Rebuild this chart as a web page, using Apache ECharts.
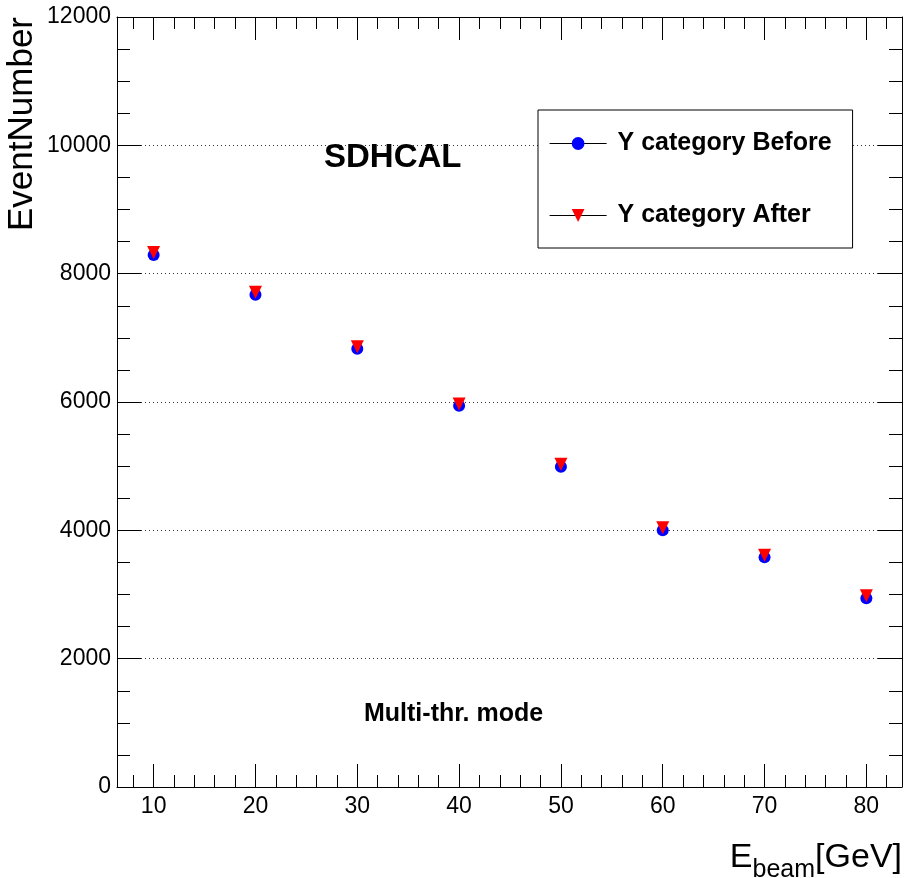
<!DOCTYPE html>
<html>
<head>
<meta charset="utf-8">
<script src="https://cdn.jsdelivr.net/npm/echarts@6/dist/echarts.min.js"></script>
<style>
html,body{margin:0;padding:0;background:#fff;}
#chart{width:907px;height:878px;}
</style>
</head>
<body>
<div id="chart"></div>
<script>
// ---- data ----
var energies = [10, 20, 30, 40, 50, 60, 70, 80];
var beforeValues = [8290, 7670, 6830, 5940, 4990, 4000, 3580, 2940];
var afterValues = [8330, 7710, 6860, 5970, 5030, 4040, 3610, 2980];
var xMajorTicks = [10, 20, 30, 40, 50, 60, 70, 80];
var xMinorTicks = [8, 12, 14, 16, 18, 22, 24, 26, 28, 32, 34, 36, 38, 42, 44, 46, 48, 52, 54, 56, 58, 62, 64, 66, 68, 72, 74, 76, 78, 82];
var seriesNames = ['Y category Before', 'Y category After'];
var yTitle = 'EventNumber';
var annotationMain = 'SDHCAL';
var annotationMode = 'Multi-thr. mode';

var FONT = '"Liberation Sans", Arial, Helvetica, sans-serif';
var X_MIN = 6.4, X_MAX = 83.5;

function pairs(xs, ys) { return xs.map(function (x, i) { return [x, ys[i]]; }); }
function plain(v) { return String(v); }

function xAxisDef(position, ticks, len, showLine, showLabels, extra) {
  var a = {
    type: 'value', position: position, min: X_MIN, max: X_MAX, gridIndex: 0,
    axisLine: { show: showLine, onZero: false, lineStyle: { color: '#000', width: 1 } },
    axisTick: { show: true, inside: true, length: len, customValues: ticks, lineStyle: { color: '#000', width: 1 } },
    axisLabel: showLabels ? { show: true, customValues: ticks, formatter: plain, color: '#000', fontFamily: FONT, fontSize: 23, margin: 8 } : { show: false },
    splitLine: { show: false }
  };
  if (extra) for (var k in extra) a[k] = extra[k];
  return a;
}

var chart = echarts.init(document.getElementById('chart'), null, { renderer: 'canvas' });
var option = {
  animation: false,
  backgroundColor: '#fff',
  grid: { left: 117, top: 17, right: 5, bottom: 91, containLabel: false, outerBoundsMode: 'none' },
  xAxis: [
    xAxisDef('bottom', xMajorTicks, 23, true, true, {
      name: '{E|E}{sub|beam}{G|[GeV]}',
      nameLocation: 'end',
      nameGap: 0,
      nameTextStyle: {
        align: 'right', verticalAlign: 'top', padding: [54, 0, 0, 0],
        rich: {
          E: { fontFamily: FONT, fontSize: 34, color: '#000', lineHeight: 34, verticalAlign: 'top' },
          sub: { fontFamily: FONT, fontSize: 25, color: '#000', lineHeight: 25, verticalAlign: 'top', padding: [17, 0, 0, 0] },
          G: { fontFamily: FONT, fontSize: 34, color: '#000', lineHeight: 34, verticalAlign: 'top' }
        }
      }
    }),
    xAxisDef('bottom', xMinorTicks, 12, false, false),
    xAxisDef('top', xMajorTicks, 23, true, false),
    xAxisDef('top', xMinorTicks, 12, false, false)
  ],
  yAxis: [
    {
      type: 'value', position: 'left', min: 0, max: 12000, interval: 2000,
      name: yTitle, nameLocation: 'end', nameGap: 0, nameRotate: 90,
      nameTextStyle: { fontFamily: FONT, fontSize: 35, color: '#000', align: 'right', verticalAlign: 'bottom', padding: [0, 0, 77, 0] },
      axisLine: { show: true, lineStyle: { color: '#000', width: 1 } },
      axisTick: { show: true, inside: true, length: 24, lineStyle: { color: '#000', width: 1 } },
      minorTick: { show: true, splitNumber: 4, length: 13, lineStyle: { color: '#000', width: 1 } },
      axisLabel: { color: '#000', fontFamily: FONT, fontSize: 23, margin: 6, formatter: plain },
      splitLine: { show: true, lineStyle: { color: '#333', width: 1, type: [1, 3] } },
      minorSplitLine: { show: false }
    },
    {
      type: 'value', position: 'right', min: 0, max: 12000, interval: 2000,
      axisLine: { show: true, lineStyle: { color: '#000', width: 1 } },
      axisTick: { show: true, inside: true, length: 24, lineStyle: { color: '#000', width: 1 } },
      minorTick: { show: true, splitNumber: 4, length: 13, lineStyle: { color: '#000', width: 1 } },
      axisLabel: { show: false },
      splitLine: { show: false }
    }
  ],
  legend: {
    show: true,
    orient: 'vertical',
    left: 538, top: 110,
    padding: [21, 21, 20, 11],
    itemGap: 47,
    itemWidth: 57,
    itemHeight: 16,
    borderColor: '#000', borderWidth: 1,
    backgroundColor: '#fff',
    lineStyle: { color: '#000', width: 1.2, opacity: 1, type: 'solid' },
    textStyle: { fontFamily: FONT, fontSize: 25, fontWeight: 'bold', color: '#000', padding: [0, 0, 0, 6] },
    data: seriesNames
  },
  graphic: [
    { type: 'text', left: 324, top: 141, z: 100,
      style: { text: annotationMain, fontFamily: FONT, fontSize: 33, fontWeight: 'bold', fill: '#000' } },
    { type: 'text', left: 364, top: 702, z: 100,
      style: { text: annotationMode, fontFamily: FONT, fontSize: 25, fontWeight: 'bold', fill: '#000' } }
  ],
  series: [
    {
      name: seriesNames[0], type: 'line', xAxisIndex: 0, yAxisIndex: 0,
      data: pairs(energies, beforeValues),
      symbol: 'circle', symbolSize: 12, showSymbol: true,
      itemStyle: { color: '#0000ff' },
      lineStyle: { width: 0, opacity: 0 },
      emphasis: { disabled: true }, z: 3
    },
    {
      name: seriesNames[1], type: 'line', xAxisIndex: 0, yAxisIndex: 0,
      data: pairs(energies, afterValues),
      symbol: 'triangle', symbolRotate: 180, symbolSize: 13, showSymbol: true,
      itemStyle: { color: '#ff0000' },
      lineStyle: { width: 0, opacity: 0 },
      emphasis: { disabled: true }, z: 4
    }
  ]
};
chart.setOption(option);
</script>
</body>
</html>
